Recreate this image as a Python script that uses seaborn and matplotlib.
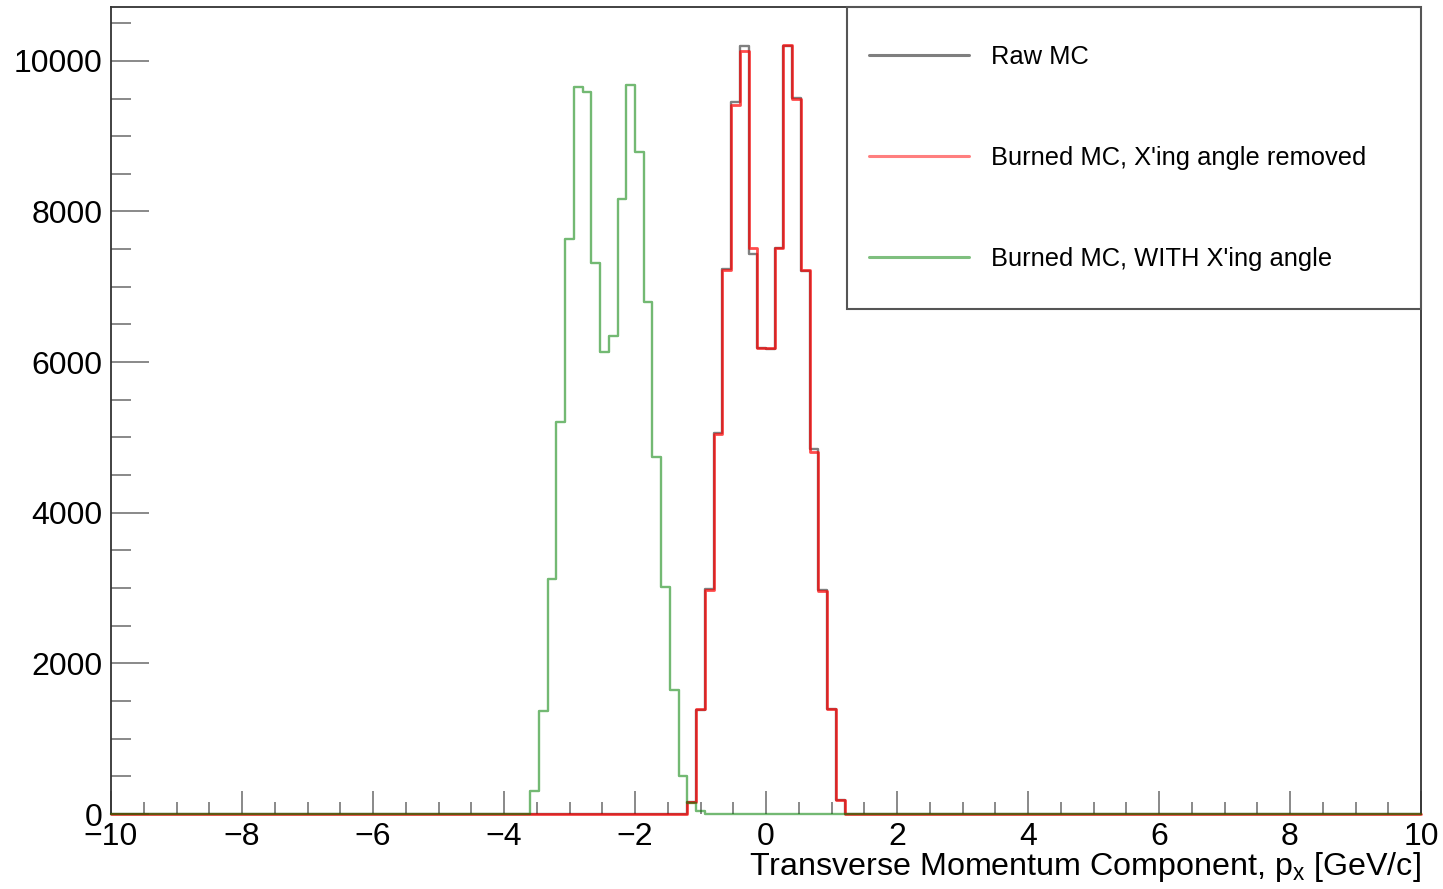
import numpy as np
import pandas as pd
import matplotlib
matplotlib.use("Agg")
import matplotlib.pyplot as plt
import seaborn as sns
from matplotlib.ticker import MultipleLocator
from matplotlib.lines import Line2D
from matplotlib.patches import Rectangle

# ---------------- data ----------------
x_min, x_max, n_bins = -10.0, 10.0, 150

series_labels = ["Raw MC", "Burned MC, X'ing angle removed", "Burned MC, WITH X'ing angle"]
series_colors = ["#000000", "#ff0000", "#008000"]
series_alpha = [0.5, 0.7, 0.55]
series_lw = [1.7, 2.0, 1.7]

raw_first_bin = 66
raw_counts = [160, 1380, 2990, 5060, 7230, 9450, 10200, 7440, 6190, 6170,
              7510, 10200, 9510, 7210, 4850, 2970, 1390, 180]

removed_first_bin = 66
removed_counts = [160, 1390, 2980, 5050, 7220, 9415, 10125, 7515, 6190, 6190,
                  7520, 10205, 9500, 7225, 4800, 2960, 1400, 185]

with_first_bin = 48
with_counts = [305, 1365, 3125, 5210, 7635, 9650, 9580, 7320, 6128, 6350,
               8160, 9685, 8785, 6800, 4735, 3012, 1640, 500, 145, 40]

x_label = r"Transverse Momentum Component, $\mathregular{p_{x}}$ [GeV/c]"

# ---------------- build histogram tables ----------------
edges = np.linspace(x_min, x_max, n_bins + 1)
centers = 0.5 * (edges[:-1] + edges[1:])


def full_counts(first_bin, counts):
    arr = np.zeros(n_bins)
    arr[first_bin:first_bin + len(counts)] = counts
    return arr


all_counts = [full_counts(raw_first_bin, raw_counts),
              full_counts(removed_first_bin, removed_counts),
              full_counts(with_first_bin, with_counts)]

# ---------------- style ----------------
sns.set_style("white")
plt.rcParams["font.family"] = ["Liberation Sans", "DejaVu Sans"]
plt.rcParams["mathtext.fontset"] = "custom"
plt.rcParams["mathtext.rm"] = "Liberation Sans"
plt.rcParams["mathtext.it"] = "Liberation Sans"
plt.rcParams["text.color"] = "black"
plt.rcParams["axes.labelcolor"] = "black"
plt.rcParams["xtick.labelcolor"] = "black"
plt.rcParams["ytick.labelcolor"] = "black"

W, H, DPI = 1443, 889, 100
fig = plt.figure(figsize=(W / DPI, H / DPI), dpi=DPI)
ax = fig.add_axes([111 / W, 1 - 814 / H, (1421 - 111) / W, (814 - 7) / H])

for lab, col, alp, lw, cnt in zip(series_labels, series_colors, series_alpha,
                                  series_lw, all_counts):
    df = pd.DataFrame({"px": centers, "count": cnt})
    sns.histplot(data=df, x="px", weights="count", bins=n_bins,
                 binrange=(x_min, x_max),
                 element="step", fill=False, color=col, alpha=alp,
                 linewidth=lw, ax=ax)

for ln in ax.lines:
    ln.set_clip_on(False)
    ln.set_zorder(3)

ymax = 1.05 * max(c.max() for c in all_counts)
ax.set_xlim(x_min, x_max)
ax.set_ylim(0, ymax)

ax.xaxis.set_major_locator(MultipleLocator(2))
ax.xaxis.set_minor_locator(MultipleLocator(0.5))
ax.yaxis.set_major_locator(MultipleLocator(2000))
ax.yaxis.set_minor_locator(MultipleLocator(500))

tick_col = "#808080"
ax.tick_params(axis="y", which="major", direction="in", length=27.5, width=1.3,
               color=tick_col, labelsize=23, pad=6, left=True, right=False)
ax.tick_params(axis="y", which="minor", direction="in", length=14.5, width=1.3,
               color=tick_col, left=True, right=False)
ax.tick_params(axis="x", which="major", direction="in", length=16.5, width=1.3,
               color=tick_col, labelsize=23, pad=6, bottom=True, top=False)
ax.tick_params(axis="x", which="minor", direction="in", length=8.6, width=1.3,
               color=tick_col, bottom=True, top=False)

for side, sp in ax.spines.items():
    sp.set_visible(True)
    sp.set_color("#333333")
    sp.set_linewidth(1.3)
ax.spines["bottom"].set_visible(False)

ax.set_ylabel("")
ax.set_xlabel(x_label, fontsize=23.2, loc="right", labelpad=-2)

# legend: framed box in the upper right corner of the axes
x0 = (847 - 111) / (1421 - 111)
y0 = (814 - 309) / (814 - 7)
ax.add_patch(Rectangle((x0, y0), 1 - x0, 1 - y0, transform=ax.transAxes,
                       facecolor="white", edgecolor="#555555", linewidth=1.5,
                       zorder=5, clip_on=False))
handles = [Line2D([], [], color=c, alpha=0.5, linewidth=2.2) for c in series_colors]
leg = ax.legend(handles, series_labels, loc="center left",
                bbox_to_anchor=(x0, y0, 1 - x0, 1 - y0),
                borderaxespad=0, fontsize=18.4, frameon=False,
                borderpad=0.86, labelspacing=3.0, handlelength=3.9,
                handletextpad=0.86)
leg.set_zorder(6)

fig.savefig("out.png", dpi=DPI)
